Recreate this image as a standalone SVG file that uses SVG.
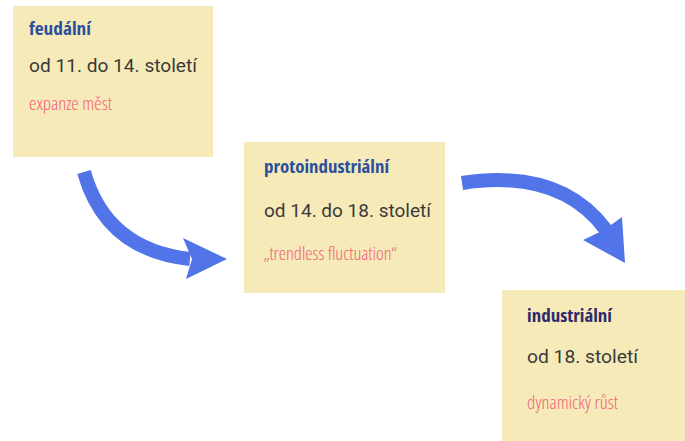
<svg xmlns="http://www.w3.org/2000/svg" width="685" height="441" viewBox="0 0 685 441">
<style>
.box{fill:#f6eab8}
.t{font-family:"Open Sans","DejaVu Sans",sans-serif;font-weight:700;font-size:17px;font-stretch:condensed;fill:#2b4f9e}
.b{font-family:Roboto,"Liberation Sans",sans-serif;font-size:19px;fill:#3a3a3a}
.p{font-family:"Open Sans","DejaVu Sans",sans-serif;font-weight:300;font-size:18px;font-stretch:condensed;fill:#f0607a}
.arr{fill:none;stroke:#5174e8;stroke-width:14}
.head{fill:#5174e8}
</style>
<g id="connectors">
<path class="arr" d="M84,172 Q106,250 190,259"/>
<polygon class="head" points="183,238 227,259 186,279 192,259"/>
<path class="arr" d="M462,183 Q560,168 606,230"/>
<polygon class="head" points="622,217 625,263 583,240 604,230"/>
</g>
<g id="feudalni">
<rect class="box" x="13" y="6" width="200" height="151"/>
<text class="t" x="29" y="35" textLength="62" lengthAdjust="spacingAndGlyphs">feudální</text>
<text class="b" x="29" y="72" textLength="168" lengthAdjust="spacingAndGlyphs">od 11. do 14. století</text>
<text class="p" x="29" y="110" textLength="83" lengthAdjust="spacingAndGlyphs">expanze měst</text>
</g>
<g id="protoindustrialni">
<rect class="box" x="244" y="142" width="201" height="151"/>
<text class="t" x="264" y="173" textLength="125" lengthAdjust="spacingAndGlyphs">protoindustriální</text>
<text class="b" x="264" y="217" textLength="167" lengthAdjust="spacingAndGlyphs">od 14. do 18. století</text>
<text class="p" x="264" y="260" textLength="133" lengthAdjust="spacingAndGlyphs">„trendless fluctuation“</text>
</g>
<g id="industrialni">
<rect class="box" x="502" y="290" width="183" height="151"/>
<text class="t" x="527" y="322" textLength="85" lengthAdjust="spacingAndGlyphs" style="fill:#2d2b6b">industriální</text>
<text class="b" x="527" y="363" textLength="111" lengthAdjust="spacingAndGlyphs">od 18. století</text>
<text class="p" x="527" y="409" textLength="91" lengthAdjust="spacingAndGlyphs">dynamický růst</text>
</g>
</svg>
